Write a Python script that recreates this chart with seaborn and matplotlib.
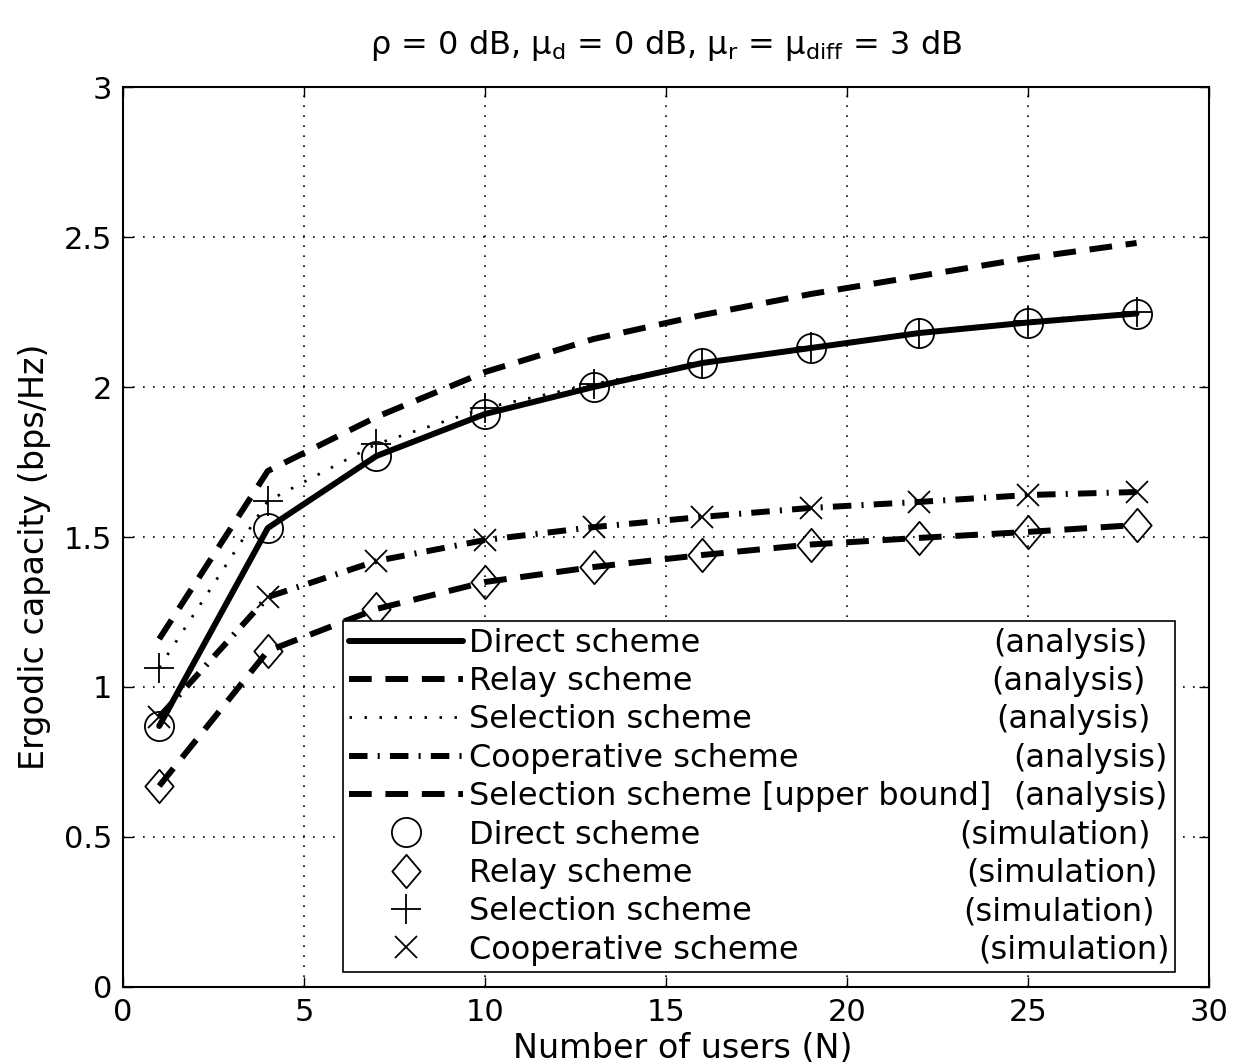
import numpy as np
import pandas as pd
import matplotlib
matplotlib.use("Agg")
import matplotlib.pyplot as plt
from matplotlib.path import Path
import seaborn as sns

# ---------------- data ----------------
users = [1, 4, 7, 10, 13, 16, 19, 22, 25, 28]
direct_cap = [0.87, 1.53, 1.77, 1.91, 2.00, 2.08, 2.13, 2.18, 2.215, 2.245]
relay_cap = [0.67, 1.12, 1.26, 1.35, 1.40, 1.44, 1.475, 1.497, 1.517, 1.54]
selection_cap = [1.065, 1.62, 1.81, 1.93, 2.01, 2.08, 2.135, 2.18, 2.22, 2.25]
coop_cap = [0.90, 1.30, 1.42, 1.49, 1.533, 1.567, 1.597, 1.617, 1.64, 1.65]
upper_cap = [1.16, 1.72, 1.90, 2.05, 2.16, 2.24, 2.31, 2.37, 2.43, 2.48]

analysis_labels = ["Direct scheme", "Relay scheme", "Selection scheme",
                   "Cooperative scheme", "Selection scheme [upper bound]"]
simulation_labels = ["Direct scheme", "Relay scheme", "Selection scheme",
                     "Cooperative scheme"]
x_ticks = [0, 5, 10, 15, 20, 25, 30]
y_ticks = [0, 0.5, 1, 1.5, 2, 2.5, 3]
y_tick_labels = ["0", "0.5", "1", "1.5", "2", "2.5", "3"]

df = pd.DataFrame({"N": users, "direct": direct_cap, "relay": relay_cap,
                   "selection": selection_cap, "coop": coop_cap,
                   "upper": upper_cap})

# ---------------- style ----------------
sns.set_style("ticks")
plt.rcParams["font.family"] = ["DejaVu Sans"]
plt.rcParams["mathtext.fontset"] = "dejavusans"
plt.rcParams["mathtext.default"] = "regular"
for key in ["text.color", "axes.labelcolor", "xtick.color", "ytick.color",
            "xtick.labelcolor", "ytick.labelcolor"]:
    plt.rcParams[key] = "black"

FS_TICK = 22
FS_LAB = 24
FS_TITLE = 23
FS_LEG = 23
fig = plt.figure(figsize=(12.33, 10.64), dpi=100)
ax = fig.add_axes([123/1233, 77/1064, (1209-123)/1233, (987-87)/1064])

K = "black"
DASH = (0, (3.8, 2.3))
# analysis curves
sns.lineplot(data=df, x="N", y="direct", ax=ax, color=K, lw=4.3,
             linestyle="-", label=analysis_labels[0])
sns.lineplot(data=df, x="N", y="relay", ax=ax, color=K, lw=4.3,
             linestyle=DASH, label=analysis_labels[1])
sns.lineplot(data=df, x="N", y="selection", ax=ax, color=K, lw=2.0,
             linestyle=(0, (0.9, 4.5)), label=analysis_labels[2])
sns.lineplot(data=df, x="N", y="coop", ax=ax, color=K, lw=4.3,
             linestyle=(0, (3.1, 1.7, 0.35, 1.7)), label=analysis_labels[3])
sns.lineplot(data=df, x="N", y="upper", ax=ax, color=K, lw=4.3,
             linestyle=DASH, label=analysis_labels[4])

# simulation markers
diamond = Path([(0, 1), (0.85, 0), (0, -1), (-0.85, 0), (0, 1)],
               [Path.MOVETO, Path.LINETO, Path.LINETO, Path.LINETO,
                Path.CLOSEPOLY])
MEW = 1.3
sns.lineplot(data=df, x="N", y="direct", ax=ax, color=K, linestyle="",
             marker="o", markersize=21, markerfacecolor="none",
             markeredgecolor=K, markeredgewidth=MEW, label=simulation_labels[0])
sns.lineplot(data=df, x="N", y="relay", ax=ax, color=K, linestyle="",
             marker=diamond, markersize=24, markerfacecolor="none",
             markeredgecolor=K, markeredgewidth=MEW, label=simulation_labels[1])
sns.lineplot(data=df, x="N", y="selection", ax=ax, color=K, linestyle="",
             marker="+", markersize=22, markeredgecolor=K,
             markeredgewidth=MEW, label=simulation_labels[2])
sns.lineplot(data=df, x="N", y="coop", ax=ax, color=K, linestyle="",
             marker="x", markersize=16, markeredgecolor=K,
             markeredgewidth=MEW, label=simulation_labels[3])

ax.set_xlim(0, 30)
ax.set_ylim(0, 3)
ax.set_xticks(x_ticks)
ax.set_xticklabels([str(t) for t in x_ticks])
ax.set_yticks(y_ticks)
ax.set_yticklabels(y_tick_labels)
ax.tick_params(direction="in", length=7, width=1, labelsize=FS_TICK,
               top=True, right=True, pad=8, colors=K, labelcolor=K)
ax.grid(True, color=K, linestyle=(0, (1, 5)), linewidth=1.2)
for sp in ax.spines.values():
    sp.set_visible(True)
    sp.set_color(K)
    sp.set_linewidth(1.5)

ax.set_xlabel("Number of users (N)", fontsize=FS_LAB, color=K)
ax.set_ylabel("Ergodic capacity (bps/Hz)", fontsize=FS_LAB, color=K)
ax.xaxis.set_label_coords(0.515, -0.05)
ax.yaxis.set_label_coords(-0.066, 0.478)
ax.set_title(r"$\rho$ = 0 dB, $\mu_{d}$ = 0 dB, $\mu_{r}$ = $\mu_{diff}$ = 3 dB",
             fontsize=FS_TITLE, pad=24, color=K)

handles, labels = ax.get_legend_handles_labels()
leg = ax.legend(handles, labels, loc="lower left",
                bbox_to_anchor=(0.2026, 0.0167, 0.7661, 0.387), mode="expand",
                borderaxespad=0, fontsize=FS_LEG, handlelength=3.55,
                handletextpad=0.2, labelspacing=0.23, borderpad=0.2,
                frameon=True, fancybox=False, edgecolor=K, framealpha=1)
leg.get_frame().set_linewidth(1.2)
for t in leg.get_texts():
    t.set_color(K)

fig.canvas.draw()
suffixes = ["(analysis)"] * 5 + ["(simulation)"] * 4
right_px = [1148, 1146, 1151, 1168, 1168, 1151, 1158, 1155, 1170]
H = fig.bbox.height
for txt, suf, rp in zip(leg.get_texts(), suffixes, right_px):
    bb = txt.get_window_extent()
    yc = (bb.y0 + bb.y1) / 2
    fig.text(rp / 1233, yc / H, suf, ha="right", va="center",
             fontsize=FS_LEG, color=K)

fig.savefig("out.png", dpi=100, facecolor="white")
